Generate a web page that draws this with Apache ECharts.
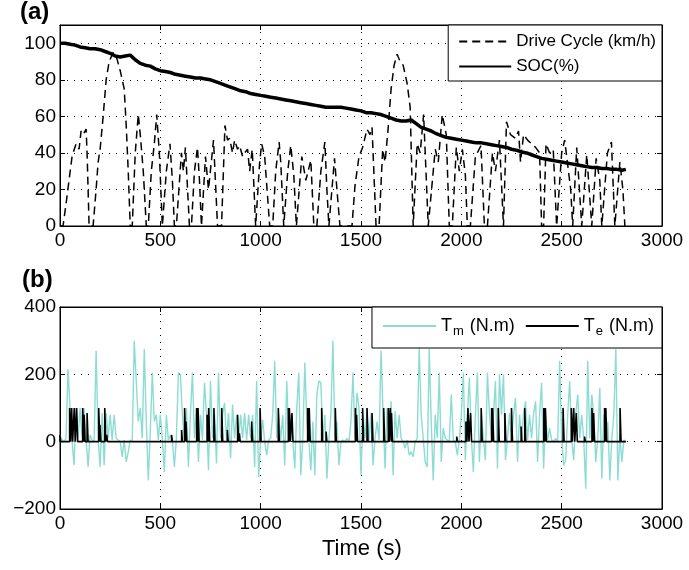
<!DOCTYPE html>
<html>
<head>
<meta charset="utf-8">
<script src="https://cdn.jsdelivr.net/npm/echarts@6/dist/echarts.min.js"></script>
<style>
html,body{margin:0;padding:0;background:#fff;}
#chart{width:689px;height:570px;}
</style>
</head>
<body>
<div id="chart"></div>
<script>
// ---------------- DATA ----------------
// Drive cycle speed (km/h): [time s, speed]
const driveCycle = [
[0,0],[15,0],[30,12],[45,25],[60,38],[80,45],[95,42],[105,52],[115,50],[130,53],[135,40],[140,20],[145,0],
[165,0],[180,20],[190,35],[200,42],[215,60],[230,80],[245,90],[265,95],[280,93],[300,85],[320,75],[330,55],[340,30],[350,0],
[360,0],[375,40],[390,61],[400,50],[415,30],[430,0],
[440,0],[455,30],[470,45],[482,61],[495,40],[510,0],
[515,0],[530,30],[548,45],[560,25],[570,0],
[580,0],[605,40],[615,30],[625,43],[645,0],
[655,0],[670,30],[685,43],[695,25],[705,0],
[710,0],[725,38],[740,20],[765,47],[785,0],
[805,0],[822,55],[835,47],[845,48],[860,40],[870,47],[885,42],[895,44],[910,38],[920,40],[935,42],[945,30],[958,42],[967,20],[975,0],
[980,0],[995,35],[1005,45],[1020,38],[1045,0],
[1060,0],[1075,30],[1092,46],[1100,35],[1115,0],
[1120,0],[1135,30],[1150,44],[1165,28],[1178,0],
[1185,0],[1205,38],[1225,25],[1250,36],[1265,0],
[1280,0],[1300,30],[1320,46],[1330,20],[1340,0],
[1345,0],[1368,37],[1380,20],[1395,0],
[1455,0],[1470,22],[1490,38],[1508,43],[1530,53],[1545,50],[1555,54],[1575,0],
[1590,0],[1608,42],[1620,35],[1635,53],[1650,75],[1665,88],[1680,94],[1695,90],[1710,88],[1730,78],[1745,65],[1760,0],
[1765,0],[1780,45],[1795,40],[1812,61],[1820,40],[1835,0],
[1840,0],[1870,42],[1885,35],[1905,61],[1925,50],[1940,0],
[1955,0],[1975,43],[1990,30],[2005,42],[2020,28],[2030,0],
[2045,0],[2070,38],[2098,44],[2115,0],
[2130,0],[2155,40],[2170,30],[2190,47],[2210,0],
[2215,0],[2225,57],[2245,50],[2270,48],[2285,52],[2295,35],[2310,50],[2330,47],[2350,45],[2370,43],[2390,40],[2400,0],
[2410,0],[2422,45],[2440,40],[2458,42],[2475,0],
[2480,0],[2500,40],[2515,47],[2545,20],[2555,0],
[2560,0],[2575,43],[2600,0],
[2605,0],[2625,39],[2650,0],
[2655,0],[2672,37],[2690,25],[2700,0],
[2705,0],[2728,40],[2748,46],[2765,0],
[2770,0],[2790,35],[2805,20],[2815,0]
];

// State of charge (%): [time s, SOC]
const soc = [
[0,100],[25,100],[50,99.5],[75,99],[100,98],[125,97.5],[150,97],[175,97],[200,96.5],[225,95.5],[250,94.5],[275,93],[300,92.5],[325,93],[350,93.5],[375,91],[400,89],[425,88],[450,87.5],[475,86],
[500,85],[525,84.5],[550,84],[575,83],[600,82.5],[625,82],[650,81.5],[675,81],[700,81],[725,80.5],[750,80],[775,79],[800,78],[825,77],[850,76],[875,75],[900,74],[925,73.5],[950,72.5],[975,72],
[1000,71.5],[1025,71],[1050,70.5],[1075,70],[1100,69.5],[1125,69],[1150,68.5],[1175,68],[1200,67.5],[1225,67],[1250,66.5],[1275,66],[1300,65.5],[1325,65],[1350,65],[1375,65],[1400,65],[1425,64.5],[1450,64],[1475,63.5],
[1500,63],[1525,62],[1550,62],[1575,61.5],[1600,61],[1625,60],[1650,59],[1675,58],[1700,57.5],[1725,57.5],[1750,58],[1775,56],[1800,54],[1825,53],[1850,52],[1875,50.5],[1900,49.5],[1925,48.5],[1950,48],[1975,47.5],
[2000,47],[2025,46.5],[2050,46],[2075,45.5],[2100,45.5],[2125,45],[2150,44.5],[2175,44],[2200,43.5],[2225,43],[2250,42],[2275,41.5],[2300,40.5],[2325,40],[2350,39],[2375,38],[2400,37],[2425,36.5],[2450,36],[2475,35.5],
[2500,35],[2525,34.5],[2550,34],[2575,33.5],[2600,33],[2625,32.5],[2650,32],[2675,32],[2700,31.5],[2725,31.5],[2750,31],[2775,31],[2800,30.5],[2820,31]
];

// Motor torque Tm (N.m), sampled every tmStep seconds from t = 0
const tmStep = 10;
const tmValues = [
20,5,0,10,215,100,5,-70,100,10,
100,15,100,5,-75,20,5,0,270,10,
-75,85,-70,85,10,80,5,80,10,5,
0,-45,5,-60,-30,5,0,300,180,60,
100,10,275,60,-115,30,205,60,80,5,
80,10,-90,80,5,20,5,-75,10,205,
200,80,5,100,-75,80,205,10,100,-60,
80,5,175,80,-85,180,10,80,-65,205,
10,80,115,5,85,-50,110,10,80,5,
80,10,85,5,80,10,80,-75,180,-105,
5,65,0,-40,5,10,80,240,10,80,
5,80,-70,180,10,80,5,-80,100,205,
-100,10,235,60,5,-85,60,-100,140,180,
175,10,80,-110,5,80,300,10,60,-70,
0,5,0,10,0,60,205,10,145,100,
-100,80,10,100,5,85,-70,10,60,5,
270,80,-80,100,10,120,-100,90,10,80,
10,0,-20,5,-40,-30,-45,0,10,280,
80,10,-60,-75,275,60,-115,80,10,205,
-60,40,10,5,0,140,5,0,-40,5,
80,205,-55,80,190,10,-90,80,205,-60,
80,10,-55,205,85,10,80,180,-80,200,
80,200,-55,10,85,5,80,130,-60,80,
10,85,120,5,80,10,85,120,-60,80,
175,-80,80,5,40,5,0,10,0,240,
10,-70,-55,80,180,5,-55,80,140,10,
80,5,-140,240,10,140,80,-60,10,160,
-110,80,5,60,-115,10,80,275,-115,20,
-60,5,0
];

// Engine torque Te (N.m) pulses: [start time s, duration s, torque]
const tePulses = [
[0,3,20],[48,5,100],[58,5,100],[71,5,100],[83,5,100],[113,5,100],[120,5,80],[135,5,85],[193,5,100],[199,5,50],[223,5,100],[233,4,20],
[556,4,20],[606,4,35],[621,5,100],[628,4,60],[681,5,100],[688,5,100],[733,5,80],[741,5,100],[767,5,100],[806,5,100],[834,4,35],[885,5,80],[894,4,25],[955,5,60],[997,5,100],
[1088,5,100],[1138,5,100],[1143,5,100],[1156,5,85],[1234,5,100],[1242,5,100],[1304,5,100],[1326,4,30],[1372,5,100],[1472,5,100],[1478,5,80],
[1508,5,100],[1530,5,100],[1555,5,85],[1613,5,100],[1636,5,100],[1646,5,100],[1652,5,85],[1977,4,15],
[2023,5,60],[2033,5,100],[2046,5,85],[2099,5,100],[2151,5,100],[2156,5,100],[2184,5,100],[2217,5,85],[2250,5,100],[2298,4,45],[2316,5,100],
[2411,5,100],[2419,5,100],[2507,5,100],[2548,5,100],[2560,5,100],[2573,5,85],[2614,4,15],[2651,5,100],[2659,5,85],[2714,5,100],[2720,5,100],[2791,5,100]
];
const teEnd = 2820;

// ---------------- BUILD SERIES DATA ----------------
const tmData = tmValues.map((v, i) => [i * tmStep, v]);
const teData = [];
tePulses.forEach(p => {
  const s = p[0], d = p[1], v = p[2];
  teData.push([s, 0], [s, v], [s + d, v], [s + d, 0]);
});
teData.push([teEnd, 0]);

// ---------------- CHART ----------------
const FONT = '"Liberation Sans", Arial, Helvetica, sans-serif';
const dotted = { type: [1, 6], color: '#000', width: 1 };
const numFmt = v => (v < 0 ? '\u2212' + Math.abs(v) : String(v));

function mainX(grid) {
  return {
    gridIndex: grid, type: 'value', min: 0, max: 3000, interval: 500,
    axisLine: { show: true, onZero: false, lineStyle: { color: '#000', width: 1 } },
    axisTick: { show: true, inside: true, length: 5, lineStyle: { color: '#000' } },
    axisLabel: { fontSize: 19, color: '#000', margin: 5, fontFamily: FONT, formatter: numFmt },
    splitLine: { show: true, lineStyle: dotted }
  };
}
function mirrorX(grid) {
  return {
    gridIndex: grid, type: 'value', min: 0, max: 3000, interval: 500, position: 'top',
    axisLine: { show: true, onZero: false, lineStyle: { color: '#000', width: 1 } },
    axisTick: { show: true, inside: true, length: 5, lineStyle: { color: '#000' } },
    axisLabel: { show: false }, splitLine: { show: false }
  };
}
function mainY(grid, min, max, interval) {
  return {
    gridIndex: grid, type: 'value', min: min, max: max, interval: interval,
    axisLine: { show: true, onZero: false, lineStyle: { color: '#000', width: 1 } },
    axisTick: { show: true, inside: true, length: 5, lineStyle: { color: '#000' } },
    axisLabel: { fontSize: 19, color: '#000', margin: 4, fontFamily: FONT, showMaxLabel: max % interval === 0, formatter: numFmt },
    splitLine: { show: true, lineStyle: dotted }
  };
}
function mirrorY(grid, min, max, interval) {
  return {
    gridIndex: grid, type: 'value', min: min, max: max, interval: interval, position: 'right',
    axisLine: { show: true, onZero: false, lineStyle: { color: '#000', width: 1 } },
    axisTick: { show: true, inside: true, length: 5, lineStyle: { color: '#000' } },
    axisLabel: { show: false }, splitLine: { show: false }
  };
}

const chart = echarts.init(document.getElementById('chart'), null, { renderer: 'canvas' });
const option = {
  animation: false,
  backgroundColor: '#fff',
  textStyle: { fontFamily: FONT },
  grid: [
    { left: 60, right: 27, top: 25, height: 201, show: true, borderColor: '#000', borderWidth: 1 },
    { left: 60, right: 27, top: 307, height: 202, show: true, borderColor: '#000', borderWidth: 1 }
  ],
  xAxis: [mainX(0), mirrorX(0), mainX(1), mirrorX(1)],
  yAxis: [mainY(0, 0, 110, 20), mirrorY(0, 0, 110, 20), mainY(1, -200, 400, 200), mirrorY(1, -200, 400, 200)],
  legend: [
    {
      data: ['Drive Cycle (km/h)', 'SOC(%)'], orient: 'vertical', right: 27, top: 25,
      backgroundColor: '#fff', borderColor: '#000', borderWidth: 1, borderRadius: 0,
      padding: [8, 6, 6, 10], itemGap: 8, itemWidth: 52, itemHeight: 14, selectedMode: false,
      itemStyle: { opacity: 0 },
      textStyle: { fontSize: 17, color: '#000', fontFamily: FONT }
    },
    {
      data: ['Tm', 'Te'], orient: 'horizontal', right: 27, top: 307,
      backgroundColor: '#fff', borderColor: '#000', borderWidth: 1, borderRadius: 0,
      padding: [10, 8, 10, 10], itemGap: 10, itemWidth: 53, itemHeight: 12, selectedMode: false,
      itemStyle: { opacity: 0 },
      formatter: name => '{m|T}{s|' + name.slice(1) + '}{m| (N.m)}',
      textStyle: {
        color: '#000', fontFamily: FONT,
        rich: {
          m: { fontSize: 18, color: '#000', fontFamily: FONT },
          s: { fontSize: 13, color: '#000', fontFamily: FONT, padding: [11, 1, 0, 1] }
        }
      }
    }
  ],
  graphic: [
    { type: 'text', left: 20, top: 0, style: { text: '(a)', font: 'bold 24px ' + FONT, fill: '#000' } },
    { type: 'text', left: 22, top: 268, style: { text: '(b)', font: 'bold 24px ' + FONT, fill: '#000' } },
    { type: 'text', left: 322, top: 538, style: { text: 'Time (s)', font: '22px ' + FONT, fill: '#000' } }
  ],
  series: [
    {
      name: 'Drive Cycle (km/h)', type: 'line', xAxisIndex: 0, yAxisIndex: 0, data: driveCycle,
      symbol: 'none', lineStyle: { color: '#000', width: 1.5, type: [8, 5] }, itemStyle: { color: '#000' }, z: 3
    },
    {
      name: 'SOC(%)', type: 'line', xAxisIndex: 0, yAxisIndex: 0, data: soc,
      symbol: 'none', lineStyle: { color: '#000', width: 3.5 }, itemStyle: { color: '#000' }, z: 4
    },
    {
      name: 'Tm', type: 'line', xAxisIndex: 2, yAxisIndex: 2, data: tmData,
      symbol: 'none', lineStyle: { color: '#8cdcd3', width: 1.4 }, itemStyle: { color: '#8cdcd3' }, z: 3
    },
    {
      name: 'Te', type: 'line', xAxisIndex: 2, yAxisIndex: 2, data: teData,
      symbol: 'none', lineStyle: { color: '#000', width: 1.6 }, itemStyle: { color: '#000' }, z: 4
    }
  ]
};
chart.setOption(option);
</script>
</body>
</html>
